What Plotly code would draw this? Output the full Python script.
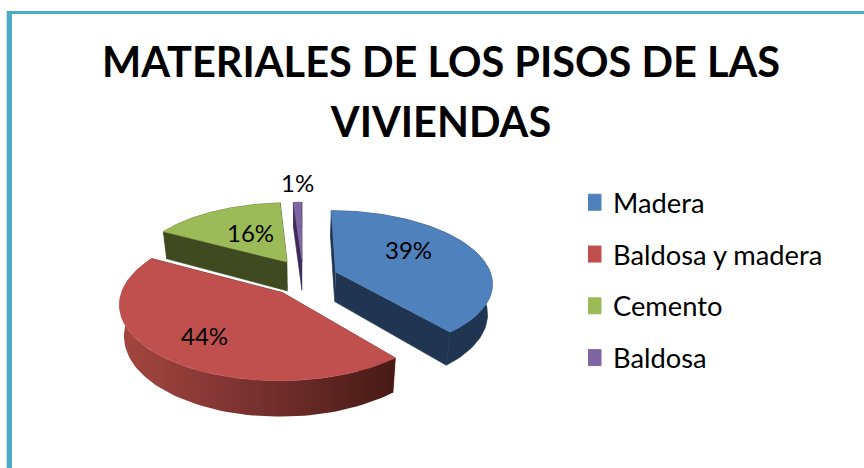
import numpy as np
import plotly.graph_objects as go

# ---- data ----
categories = ["Madera", "Baldosa y madera", "Cemento", "Baldosa"]
values = [39, 44, 16, 1]
top_colors = ["#4f81bd", "#c0504d", "#9bbb59", "#8064a2"]
wall_colors = ["#1f3552", "#5a201c", "#3f4a20", "#3b2b55"]
title_text = ('<span style="font-size:41.5px">MATERIALES DE LOS PISOS DE LAS</span><br>'
              '<span style="font-size:41.5px">VIVIENDAS</span>')

# ---- 3-D pie projection constants ----
W, H = 864, 468
CX, CY, RX, RY, PERSP, DEPTH, WALL_X = 300, 280, 157, 72, 0.14, 30, 0.975
EXPLODE = [(0.23, -0.112), (-0.11, 0.17), (-0.085, -0.26), (0.013, -0.27)]
LABEL_POS = [(408, 249), (204, 335), (250, 232), (297, 182)]


def project(U, V, drop=0.0):
    U, V = np.asarray(U, float), np.asarray(V, float)
    s = 1 / (1 - PERSP * V)
    shrink = WALL_X if drop else 1.0
    return CX + RX * U * s * shrink, CY + RY * V * s + drop * s


fig = go.Figure()


def poly(x, y, color, gradient=None):
    kw = dict(fillgradient=gradient) if gradient else dict(fillcolor=color)
    fig.add_trace(go.Scatter(x=list(x), y=list(y), mode="lines", fill="toself",
                             line=dict(width=0 if gradient else 0.6, color=color),
                             showlegend=False, hoverinfo="skip", **kw))


edges = np.cumsum([0] + values) / sum(values) * 2 * np.pi
red_gradient = dict(type="horizontal",
                    colorscale=[[0, "#a5463f"], [0.45, "#7c3330"], [1, "#471a16"]])

for i in [3, 2, 0, 1]:  # painter's order, back to front
    t = np.linspace(edges[i], edges[i + 1], 90)
    dU, dV = EXPLODE[i]
    rimU, rimV = dU + np.sin(t), dV - np.cos(t)
    ax, ay = project([dU], [dV])
    ax2, ay2 = project([dU], [dV], DEPTH)
    rx1, ry1 = project(rimU, rimV)
    rx2, ry2 = project(rimU, rimV, DEPTH)
    grad = red_gradient if i == 1 else None
    # two cut faces
    poly([ax[0], rx1[0], rx2[0], ax2[0]], [ay[0], ry1[0], ry2[0], ay2[0]], wall_colors[i])
    poly([ax[0], rx1[-1], rx2[-1], ax2[0]], [ay[0], ry1[-1], ry2[-1], ay2[0]], wall_colors[i])
    # outer rim
    poly(np.r_[rx1, rx2[::-1]], np.r_[ry1, ry2[::-1]], wall_colors[i], grad)
    # top face
    poly(np.r_[ax, rx1], np.r_[ay, ry1], top_colors[i])

# legend entries
for i, name in enumerate(categories):
    fig.add_trace(go.Scatter(x=[None], y=[None], mode="markers", name=name, legendgroup=name,
                             marker=dict(symbol="square", size=16, color=top_colors[i],
                                         line=dict(width=1, color=top_colors[i]))))

annotations = [dict(x=p[0], y=p[1], text=f"{v}%", showarrow=False, xref="x", yref="y",
                    font=dict(family="Lato", size=24, color="black"))
               for v, p in zip(values, LABEL_POS)]

shapes = [
    dict(type="rect", x0=7, x1=12, y0=11, y1=H, fillcolor="#4bacc6", line_width=0, layer="above"),
    dict(type="rect", x0=7, x1=W, y0=11, y1=14, fillcolor="#4bacc6", line_width=0, layer="above"),
    dict(type="rect", x0=6, x1=7, y0=11, y1=H, fillcolor="#d5dde0", line_width=0, layer="above"),
]

fig.update_layout(
    width=W, height=H, margin=dict(l=0, r=0, t=0, b=0),
    paper_bgcolor="white", plot_bgcolor="white",
    xaxis=dict(range=[0, W], visible=False, fixedrange=True),
    yaxis=dict(range=[H, 0], visible=False, fixedrange=True),
    title=dict(text=title_text, x=441 / W, xanchor="center", y=1 - 77 / H, yanchor="top",
               font=dict(family="Lato", size=46, color="black", weight="bold")),
    legend=dict(x=588 / W, xanchor="left", y=1 - 178 / H, yanchor="top", tracegroupgap=13.3,
                traceorder="grouped", itemsizing="trace", indentation=-15,
                font=dict(family="Lato", size=27.3, color="black"), bgcolor="rgba(0,0,0,0)"),
    annotations=annotations, shapes=shapes,
)

fig.write_html("out.html", post_script="document.body.style.margin='0';",
               config=dict(displayModeBar=False))
